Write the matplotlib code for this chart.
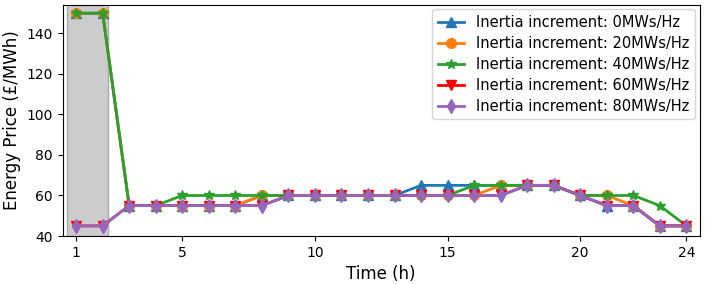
import matplotlib
matplotlib.use("Agg")
import matplotlib.pyplot as plt

hours = list(range(1, 25))
price_0 = [150, 150, 55, 55, 55, 55, 55, 60, 60, 60, 60, 60, 60, 65, 65, 65, 65, 65, 65, 60, 55, 55, 45, 45]
price_20 = [150, 150, 55, 55, 55, 55, 55, 60, 60, 60, 60, 60, 60, 60, 60, 60, 65, 65, 65, 60, 60, 55, 45, 45]
price_40 = [150, 150, 55, 55, 60, 60, 60, 60, 60, 60, 60, 60, 60, 60, 60, 65, 65, 65, 65, 60, 60, 60, 55, 45]
price_60 = [45, 45, 55, 55, 55, 55, 55, 55, 60, 60, 60, 60, 60, 60, 60, 60, 60, 65, 65, 60, 55, 55, 45, 45]
price_80 = [45, 45, 55, 55, 55, 55, 55, 55, 60, 60, 60, 60, 60, 60, 60, 60, 60, 65, 65, 60, 55, 55, 45, 45]
labels = ["Inertia increment: 0MWs/Hz", "Inertia increment: 20MWs/Hz",
          "Inertia increment: 40MWs/Hz", "Inertia increment: 60MWs/Hz",
          "Inertia increment: 80MWs/Hz"]
xtick_vals = [1, 5, 10, 15, 20, 24]

series = [price_0, price_20, price_40, price_60, price_80]
markers = ["^", "o", "*", "v", "d"]
colors = ["#1f77b4", "#ff7f0e", "#2ca02c", "#ff0000", "#9467bd"]

fig = plt.figure(figsize=(7.06, 2.84), dpi=100)
ax = fig.add_axes([0.089, 0.169, 0.902, 0.813])
ax.axvspan(0.65, 2.2, facecolor="#cccccc", edgecolor="#aaaaaa", linewidth=1, zorder=0)
for s, m, c, l in zip(series, markers, colors, labels):
    ax.plot(hours, s, marker=m, color=c, label=l, linewidth=2, markersize=7)
ax.set_xlim(0.5, 24.5)
ax.set_ylim(40, 154)
ax.set_xticks(xtick_vals)
ax.set_yticks([40, 60, 80, 100, 120, 140])
ax.tick_params(labelsize=10)
ax.set_xlabel("Time (h)", fontsize=12)
ax.set_ylabel("Energy Price (£/MWh)", fontsize=12)
ax.legend(loc="upper right", fontsize=10.5, borderaxespad=0.3, handlelength=1.8,
          labelspacing=0.4)
fig.savefig("out.png", dpi=100)
